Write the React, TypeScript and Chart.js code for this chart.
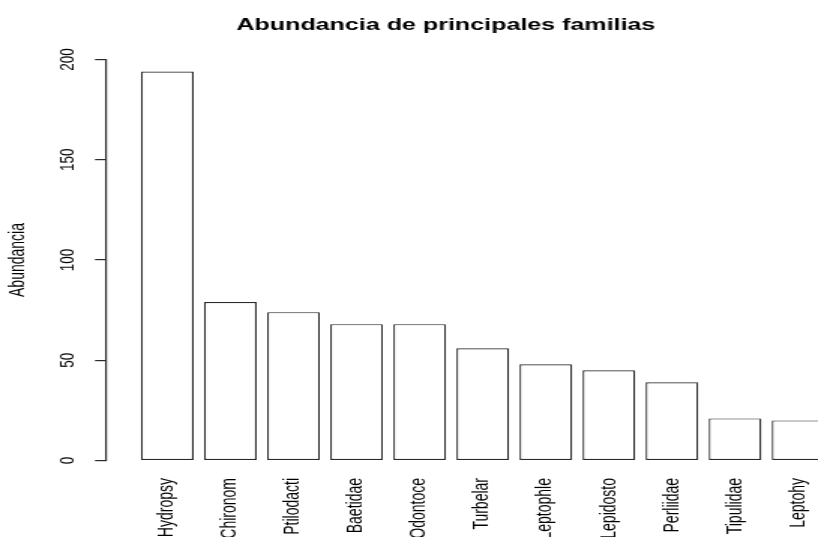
import { useEffect, useRef } from "react";
import { Chart, registerables } from "chart.js";

Chart.register(...registerables);

// Family names and their abundance counts
const FAMILIES = [
  "Hydropsy",
  "Chironom",
  "Ptilodacti",
  "Baetidae",
  "Odontoce",
  "Turbelar",
  "Leptophle",
  "Lepidosto",
  "Perliidae",
  "Tipulidae",
  "Leptohy",
];
const ABUNDANCE = [194, 79, 74, 68, 68, 56, 48, 45, 39, 21, 20];
const Y_TICKS = [0, 50, 100, 150, 200];

const TITLE = "Abundancia de principales familias";
const Y_LABEL = "Abundancia";

// barplot-style layout: unit bar width, 0.2 gap, x limits 0..12 with 4% extension
const BAR_WIDTH = 1;
const BAR_SPACE = 0.2;
const X_LIMITS = [0, 12];
const X_EXT = 0.04 * (X_LIMITS[1] - X_LIMITS[0]);

const CENTERS = FAMILIES.map(
  (_f, i) => i * (BAR_WIDTH + BAR_SPACE) + BAR_SPACE + BAR_WIDTH / 2
);

// The canvas is drawn narrow and widened horizontally on screen
const OUT_W = 818;
const OUT_H = 537;
const CANVAS_W = 545;
const SX = OUT_W / CANVAS_W;

const FONT = "'Liberation Sans', Arial, Helvetica, sans-serif";
const LINE = "#2a2a2a";

export default function App() {
  const canvasRef = useRef<HTMLCanvasElement | null>(null);

  useEffect(() => {
    const canvas = canvasRef.current;
    if (!canvas) return;

    const chart = new Chart(canvas, {
      type: "bar",
      data: {
        datasets: [
          {
            data: ABUNDANCE.map((y, i) => ({ x: CENTERS[i], y })),
            backgroundColor: "#ffffff",
            borderColor: LINE,
            borderWidth: 1.2,
            borderSkipped: false,
            barPercentage: BAR_WIDTH / (BAR_WIDTH + BAR_SPACE),
            categoryPercentage: 1,
            clip: false,
          },
        ],
      },
      options: {
        animation: false,
        responsive: false,
        layout: { padding: { left: 0, top: 0, right: 31.5 / SX, bottom: 0 } },
        plugins: {
          legend: { display: false },
          tooltip: { enabled: false },
          title: {
            display: true,
            text: TITLE,
            fullSize: false,
            color: "#000000",
            font: { family: FONT, size: 16.7, weight: "bold", lineHeight: 1.2 },
            padding: { top: 15.2, bottom: 24.3 },
          },
        },
        scales: {
          x: {
            type: "linear",
            min: X_LIMITS[0] - X_EXT,
            max: X_LIMITS[1] + X_EXT,
            offset: false,
            grid: { display: false, drawTicks: false },
            border: { display: false },
            afterBuildTicks: (scale: any) => {
              scale.ticks = CENTERS.map((v) => ({ value: v }));
            },
            afterFit: (scale: any) => {
              scale.height = OUT_H - 460.5;
              scale.paddingLeft = 0;
              scale.paddingRight = 0;
            },
            ticks: {
              autoSkip: false,
              minRotation: 90,
              maxRotation: 90,
              padding: 17.5,
              color: "#000000",
              font: { family: FONT, size: 14 },
              callback: (_v: any, i: number) => FAMILIES[i],
            },
          },
          y: {
            min: 0,
            max: 200,
            afterBuildTicks: (scale: any) => {
              scale.ticks = Y_TICKS.map((v) => ({ value: v }));
            },
            afterFit: (scale: any) => {
              scale.width = 105.3 / SX;
              scale.paddingTop = 0;
              scale.paddingBottom = 0;
            },
            grid: {
              drawOnChartArea: false,
              drawTicks: true,
              tickLength: 10.3 / SX,
              color: LINE,
              lineWidth: 1.2,
            },
            border: { display: true, color: LINE, width: 1.2 },
            ticks: {
              minRotation: 90,
              maxRotation: 90,
              crossAlign: "center",
              padding: 6.5,
              color: "#000000",
              font: { family: FONT, size: 13.5 },
            },
            title: {
              display: true,
              text: Y_LABEL,
              color: "#000000",
              font: { family: FONT, size: 14, lineHeight: 1.2 },
              padding: { top: 3.5, bottom: 0 },
            },
          },
        },
      } as any,
    });

    return () => chart.destroy();
  }, []);

  return (
    <div
      style={{
        position: "absolute",
        left: 0,
        top: 0,
        width: OUT_W,
        height: OUT_H,
        overflow: "hidden",
        background: "#ffffff",
      }}
    >
      <canvas
        ref={canvasRef}
        width={CANVAS_W}
        height={OUT_H}
        style={{
          display: "block",
          width: `${CANVAS_W}px`,
          height: `${OUT_H}px`,
          transform: `scaleX(${SX})`,
          transformOrigin: "left top",
        }}
      />
    </div>
  );
}
